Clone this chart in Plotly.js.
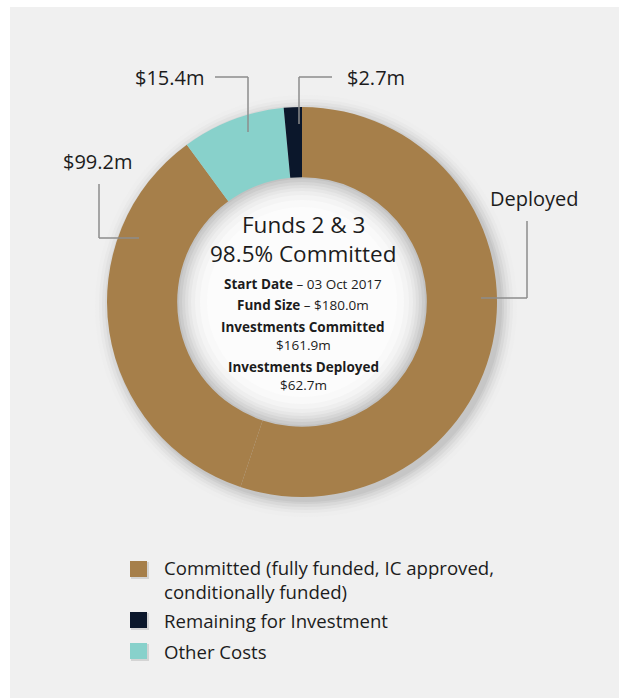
<!DOCTYPE html>
<html>
<head>
<meta charset="utf-8">
<script src="https://cdn.plot.ly/plotly-3.0.1.min.js"></script>
<style>html,body{margin:0;padding:0;background:#fff;}#chart{width:621px;height:698px;}</style>
</head>
<body>
<div id="chart"></div>
<script>
// ---- data ----
var sliceNames  = ['Deployed', 'Committed (not deployed)', 'Other Costs', 'Remaining for Investment'];
var sliceValues = [99.2, 62.7, 15.4, 2.7];
var sliceColors = ['#a67f4a', '#a67f4a', '#88d1cb', '#0b172b'];
var calloutTexts = ['Deployed', '$99.2m', '$15.4m', '$2.7m'];
var legendLabels = ['Committed (fully funded, IC approved,<br>conditionally funded)', 'Remaining for Investment', 'Other Costs'];
var legendColors = ['#a67f4a', '#0b172b', '#88d1cb'];
var centerTitle = ['Funds 2 & 3', '98.5% Committed'];
var centerLines = ['<b>Start Date</b> – 03 Oct 2017', '<b>Fund Size</b> – $180.0m', '<b>Investments Committed</b>', '$161.9m', '<b>Investments Deployed</b>', '$62.7m'];

// ---- layout helpers (pixel -> paper) ----
var W = 621, H = 698;
function px(x){ return x / W; }
function py(y){ return 1 - y / H; }
var cx = 302, cy = 302, R = 195;

var shapes = [];
// panel
shapes.push({type:'rect', xref:'paper', yref:'paper', x0:px(10), x1:px(619), y0:py(7), y1:py(698), fillcolor:'#f0f0f0', line:{width:0}, layer:'below'});
// outer soft shadow
var sh = [[16,'#eeeeee'],[12,'#e9e9e9'],[9,'#e2e2e2'],[6,'#d9d9d9'],[3,'#cfcfcf'],[1,'#c6c6c6']];
sh.forEach(function(s){
  var r = R + s[0], ox = 4, oy = 4;
  shapes.push({type:'circle', xref:'paper', yref:'paper', x0:px(cx+ox-r), x1:px(cx+ox+r), y0:py(cy+oy+r), y1:py(cy+oy-r), fillcolor:s[1], line:{width:0}, layer:'below'});
});
// inner hole shading
var hs = [[126,'#c2c2c2'],[123,'#cccccc'],[120,'#d6d6d6'],[117,'#dfdfdf'],[114,'#e7e7e7'],[111,'#eeeeee'],[107,'#f4f4f4'],[102,'#f9f9f9'],[95,'#fcfcfc']];
hs.forEach(function(s){
  var r = s[0];
  shapes.push({type:'circle', xref:'paper', yref:'paper', x0:px(cx-r), x1:px(cx+r), y0:py(cy+r), y1:py(cy-r), fillcolor:s[1], line:{width:0}, layer:'below'});
});

// leader lines
var lineStyle = {color:'#8c8c8c', width:1.5};
function seg(x0,y0,x1,y1){ shapes.push({type:'line', xref:'paper', yref:'paper', x0:px(x0), y0:py(y0), x1:px(x1), y1:py(y1), line:lineStyle, layer:'above'}); }
// Deployed
seg(527,221,527,298); seg(481,298,527,298);
// $99.2m
seg(99,184,99,238); seg(99,238,139,238);
// $15.4m
seg(215,77,248,77); seg(248,77,248,132);
// $2.7m
seg(299,77,332,77); seg(299,77,299,124);

// legend squares
var legY = [569, 620, 651];
var legTextY = [579, 620, 651];
legendColors.forEach(function(c,i){
  var y = legY[i];
  shapes.push({type:'rect', xref:'paper', yref:'paper', x0:px(131), x1:px(149), y0:py(y+10), y1:py(y-7), fillcolor:'#d4d4d4', line:{width:0}, layer:'below'});
  shapes.push({type:'rect', xref:'paper', yref:'paper', x0:px(130), x1:px(147), y0:py(y+8), y1:py(y-8), fillcolor:c, line:{width:0}, layer:'above'});
});

var annotations = [];
var txtColor = '#1c1c1c';
function ann(text, x, y, size, anchor){
  annotations.push({text:text, xref:'paper', yref:'paper', x:px(x), y:py(y), xanchor:anchor||'center', yanchor:'middle', showarrow:false, borderpad:0, font:{family:'Open Sans', size:size, color:txtColor}});
}
// callouts
ann(calloutTexts[0], 534, 198, 20);
ann(calloutTexts[1], 98, 161, 20);
ann(calloutTexts[2], 170, 77, 20);
ann(calloutTexts[3], 376, 77, 20);
// center texts
ann(centerTitle[0], 303, 224, 22.5);
ann(centerTitle[1], 303, 253, 22.5);
var cly = [284, 305, 327, 345, 367, 385];
centerLines.forEach(function(t,i){ ann(t, 303, cly[i], 13.5); });
// legend texts
legendLabels.forEach(function(t,i){
  annotations.push({text:t, xref:'paper', yref:'paper', x:px(162), y:py(legTextY[i]), xanchor:'left', yanchor:'middle', align:'left', showarrow:false, font:{family:'Open Sans', size:18.6, color:txtColor}});
});

var trace = {
  type:'pie',
  labels: sliceNames,
  values: sliceValues,
  marker:{colors:sliceColors, line:{width:0}},
  hole: 0.64,
  sort:false,
  direction:'clockwise',
  rotation:0,
  textinfo:'none',
  hoverinfo:'none',
  showlegend:false,
  domain:{x:[px(cx-R), px(cx+R)], y:[py(cy+R), py(cy-R)]}
};

var layout = {
  width:W, height:H,
  margin:{l:0,r:0,t:0,b:0},
  paper_bgcolor:'#ffffff',
  showlegend:false,
  shapes:shapes,
  annotations:annotations,
  font:{family:'Open Sans'}
};

Plotly.newPlot('chart', [trace], layout, {displayModeBar:false, staticPlot:true});
</script>
</body>
</html>
